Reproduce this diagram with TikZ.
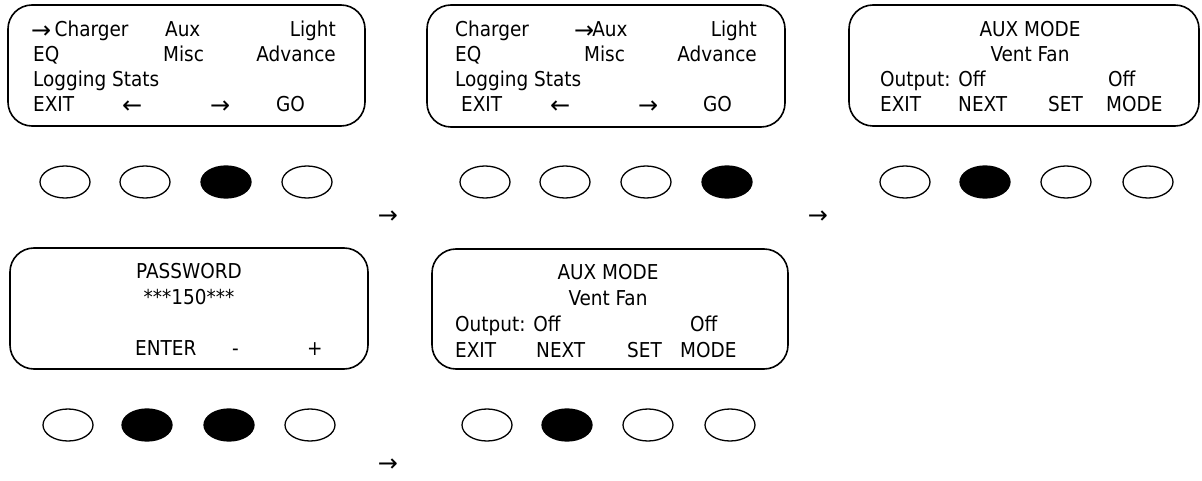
\documentclass[tikz,border=0pt]{standalone}
\usepackage{fontspec}
\setmainfont{DejaVu Sans Condensed}
\newfontfamily\arrowfamily{DejaVu Sans}
\usetikzlibrary{shapes.geometric, positioning}
\newcommand{\lcdfont}{\fontsize{20.5}{24}\selectfont}
\newcommand{\arr}{\raisebox{-1.5pt}{\arrowfamily\fontsize{24}{24}\selectfont →}}
\newcommand{\larr}{\raisebox{-1.5pt}{\arrowfamily\fontsize{24}{24}\selectfont ←}}
\tikzset{
    screen/.style={rectangle, rounded corners=24pt, draw=black,
                   line width=1.6pt, inner sep=0pt},
    txt/.style={anchor=base west, inner sep=0pt, font=\lcdfont},
    ctxt/.style={anchor=base, inner sep=0pt, font=\lcdfont},
    btn/.style={ellipse, draw=black, line width=1.3pt, minimum width=50pt,
                minimum height=32pt, inner sep=0pt, fill=#1},
    btn/.default=white,
    nextarr/.style={inner sep=0pt, font=\lcdfont},
}

\begin{document}
\begin{tikzpicture}[x=1pt, y=-1pt]
    \useasboundingbox (0,0) rectangle (1202,481);

    % Screens
    \node[screen, minimum width=357pt, minimum height=121pt] (menuA) at (186.5,65.5) {};
    \node[screen, minimum width=358pt, minimum height=122pt] (menuB) at (606,66) {};
    \node[screen, minimum width=350pt, minimum height=121pt] (auxA) at (1024,65.5) {};
    \node[screen, minimum width=358pt, minimum height=121pt] (pass) at (189,308.5) {};
    \node[screen, minimum width=356pt, minimum height=120pt] (auxB) at (610,309) {};

    % Main menu, cursor on Charger
    \node[txt] (mA1) at (31,37) {\arr\,Charger};
    \node[txt] (mA2) at (165,37) {Aux};
    \node[txt, anchor=base east] (mA3) at (336,37) {Light};
    \node[txt] (mA4) at (33,62) {EQ};
    \node[txt] (mA5) at (163,62) {Misc};
    \node[txt, anchor=base east] (mA6) at (336,62) {Advance};
    \node[txt] (mA7) at (33,87) {Logging Stats};
    \node[txt] (mA8) at (33,112) {EXIT};
    \node[txt] (mA9) at (122,112) {\larr};
    \node[txt] (mA10) at (210,112) {\arr};
    \node[txt] (mA11) at (276,112) {GO};

    % Main menu, cursor on Aux
    \node[txt] (mB1) at (455,37) {Charger};
    \node[txt] (mB2) at (574,37) {\arr\kern-2pt Aux};
    \node[txt, anchor=base east] (mB3) at (757,37) {Light};
    \node[txt] (mB4) at (455,62) {EQ};
    \node[txt] (mB5) at (584,62) {Misc};
    \node[txt, anchor=base east] (mB6) at (757,62) {Advance};
    \node[txt] (mB7) at (455,87) {Logging Stats};
    \node[txt] (mB8) at (461,112) {EXIT};
    \node[txt] (mB9) at (550,112) {\larr};
    \node[txt] (mB10) at (638,112) {\arr};
    \node[txt] (mB11) at (703,112) {GO};

    % Aux mode
    \node[ctxt] (xA1) at (1030,37) {AUX MODE};
    \node[ctxt] (xA2) at (1030,62) {Vent Fan};
    \node[txt] (xA3) at (880,87) {Output: Off};
    \node[txt] (xA4) at (1108,87) {Off};
    \node[txt] (xA5) at (880,112) {EXIT};
    \node[txt] (xA6) at (958,112) {NEXT};
    \node[txt] (xA7) at (1048,112) {SET};
    \node[txt] (xA8) at (1106,112) {MODE};

    % Password
    \node[ctxt] (pw1) at (189,278) {PASSWORD};
    \node[ctxt] (pw2) at (189,304) {***150***};
    \node[txt] (pw3) at (135,355) {ENTER};
    \node[txt] (pw4) at (232,355) {-};
    \node[txt] (pw5) at (307,355) {+};

    % Aux mode after password
    \node[ctxt] (xB1) at (608,279) {AUX MODE};
    \node[ctxt] (xB2) at (608,305) {Vent Fan};
    \node[txt] (xB3) at (455,331) {Output: Off};
    \node[txt] (xB4) at (690,331) {Off};
    \node[txt] (xB5) at (455,357) {EXIT};
    \node[txt] (xB6) at (536,357) {NEXT};
    \node[txt] (xB7) at (627,357) {SET};
    \node[txt] (xB8) at (680,357) {MODE};

    % Buttons
    \foreach \x/\f [count=\i] in {65/white, 145/white, 226/black, 307/white}
        \node[btn=\f] (bA\i) at (\x,182) {};
    \foreach \x/\f [count=\i] in {485/white, 565/white, 646/white, 727/black}
        \node[btn=\f] (bB\i) at (\x,182) {};
    \foreach \x/\f [count=\i] in {905/white, 985/black, 1066/white, 1148/white}
        \node[btn=\f] (bC\i) at (\x,182) {};
    \foreach \x/\f [count=\i] in {68/white, 147/black, 229/black, 310/white}
        \node[btn=\f] (bD\i) at (\x,425) {};
    \foreach \x/\f [count=\i] in {487/white, 567/black, 648/white, 730/white}
        \node[btn=\f] (bE\i) at (\x,425) {};

    % Step arrows
    \node[nextarr] (goB) at (388,217) {\arr};
    \node[nextarr] (goC) at (818,217) {\arr};
    \node[nextarr] (goE) at (388,465) {\arr};
\end{tikzpicture}
\end{document}
